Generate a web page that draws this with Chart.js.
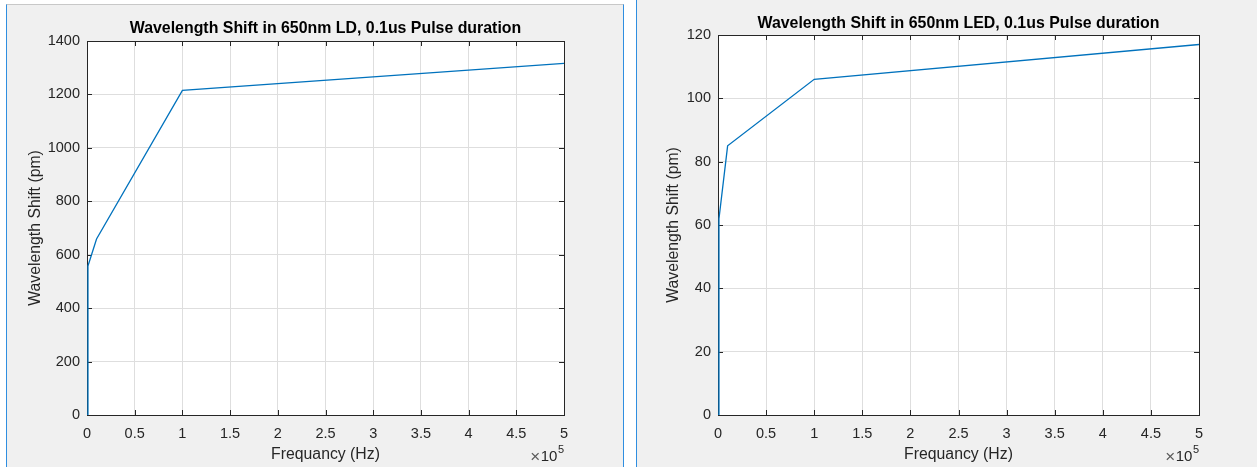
<!DOCTYPE html>
<html>
<head>
<meta charset="utf-8">
<script src="https://cdn.jsdelivr.net/npm/chart.js@4.4.1/dist/chart.umd.min.js"></script>
<style>
  html, body { margin: 0; padding: 0; background: #fff; }
  body { width: 1257px; height: 467px; position: relative; overflow: hidden; font-family: "Liberation Sans", Arial, sans-serif; }
  .panel { position: absolute; background: #f0f0f0; box-sizing: border-box; }
  #panelL { left: 6px; top: 4px; width: 618px; height: 463px; border-top: 1px solid #c8c8c8; border-left: 1px solid #2f8ee0; border-right: 1px solid #2f8ee0; }
  #panelR { left: 636px; top: 0; width: 621px; height: 467px; border-left: 1px solid #2f8ee0; }
  .box { position: absolute; top: 0; height: 467px; }
  #boxL { left: 6px; width: 618px; }
  #boxR { left: 636px; width: 621px; }
</style>
</head>
<body>
<div class="panel" id="panelL"></div>
<div class="panel" id="panelR"></div>
<div class="box" id="boxL"><canvas id="chartLD"></canvas></div>
<div class="box" id="boxR"><canvas id="chartLED"></canvas></div>
<script>
// frequency in Hz, shift in pm
const ldFreq = [1, 1000, 10000, 100000, 500000];
const ldShift = [0, 558, 659, 1215, 1316];
const ledFreq = [1, 1000, 10000, 100000, 500000];
const ledShift = [0, 62, 85, 106, 117];

// x ticks are shown in units of 1e5 Hz
const freqTicks = [0, 0.5, 1, 1.5, 2, 2.5, 3, 3.5, 4, 4.5, 5];
const ldTicks = [0, 200, 400, 600, 800, 1000, 1200, 1400];
const ledTicks = [0, 20, 40, 60, 80, 100, 120];

const FONT = '"Liberation Sans", Arial, Helvetica, sans-serif';
const AXIS_COLOR = '#262626';
const GRID_COLOR = '#dedede';
const LINE_COLOR = '#0072bd';

// white plot box, axes frame with inward ticks, title and the x10^5 multiplier
const matlabAxes = {
    id: 'matlabAxes',
    beforeDraw(chart) {
        const { ctx, chartArea: a } = chart;
        ctx.save();
        ctx.fillStyle = '#fff';
        ctx.fillRect(a.left, a.top, a.right - a.left, a.bottom - a.top);
        ctx.restore();
    },
    beforeDatasetsDraw(chart) {
        const { ctx, chartArea: a, scales } = chart;
        const tl = 5;
        ctx.save();
        ctx.strokeStyle = AXIS_COLOR;
        ctx.lineWidth = 1;
        ctx.beginPath();
        scales.x.ticks.forEach(t => {
            const px = Math.round(scales.x.getPixelForValue(t.value)) + 0.5;
            ctx.moveTo(px, a.bottom); ctx.lineTo(px, a.bottom - tl);
            ctx.moveTo(px, a.top); ctx.lineTo(px, a.top + tl);
        });
        scales.y.ticks.forEach(t => {
            const py = Math.round(scales.y.getPixelForValue(t.value)) + 0.5;
            ctx.moveTo(a.left, py); ctx.lineTo(a.left + tl, py);
            ctx.moveTo(a.right, py); ctx.lineTo(a.right - tl, py);
        });
        ctx.stroke();
        ctx.strokeRect(Math.round(a.left) + 0.5, Math.round(a.top) + 0.5,
            Math.round(a.right - a.left), Math.round(a.bottom - a.top));
        ctx.restore();
    },
    afterDraw(chart, args, opts) {
        const { ctx, chartArea: a } = chart;
        ctx.save();
        ctx.fillStyle = '#000';
        ctx.font = 'bold 15.9px ' + FONT;
        ctx.textAlign = 'center';
        ctx.textBaseline = 'alphabetic';
        ctx.fillText(opts.title, (a.left + a.right) / 2, opts.titleY);

        // exponent label under the right end of the x axis
        ctx.fillStyle = AXIS_COLOR;
        ctx.textAlign = 'left';
        ctx.font = '11px ' + FONT;
        const w5 = ctx.measureText('5').width;
        const xEnd = a.right;
        ctx.fillText('5', xEnd - w5, 453);
        ctx.font = '15px ' + FONT;
        const w10 = ctx.measureText('10').width;
        ctx.fillText('10', xEnd - w5 - w10 - 0.5, 461);
        ctx.font = '17px ' + FONT;
        ctx.fillStyle = '#5a5a5a';
        const wx = ctx.measureText('\u00d7').width;
        ctx.fillText('\u00d7', xEnd - w5 - w10 - wx - 1, 462);
        ctx.restore();
    }
};

function buildChart(id, freq, shift, yTicks, opts) {
    const points = freq.map((f, i) => ({ x: f, y: shift[i] }));
    return new Chart(document.getElementById(id), {
        type: 'scatter',
        data: {
            datasets: [{
                data: points,
                showLine: true,
                borderColor: LINE_COLOR,
                borderWidth: 1.3,
                pointRadius: 0,
                pointHoverRadius: 0,
                tension: 0
            }]
        },
        options: {
            responsive: true,
            maintainAspectRatio: false,
            animation: false,
            events: [],
            layout: { padding: { left: 0, right: opts.padRight, top: opts.padTop, bottom: 0 } },
            plugins: {
                legend: { display: false },
                tooltip: { enabled: false },
                matlabAxes: { title: opts.title, titleY: opts.titleY }
            },
            scales: {
                x: {
                    type: 'linear',
                    min: 0,
                    max: 500000,
                    afterBuildTicks: s => { s.ticks = freqTicks.map(v => ({ value: v * 1e5 })); },
                    afterFit: s => { s.height = 52; },
                    ticks: {
                        color: AXIS_COLOR,
                        font: { family: FONT, size: 14.5 },
                        padding: 10,
                        maxRotation: 0,
                        autoSkip: false,
                        callback: v => String(Math.round(v / 1e4) / 10)
                    },
                    grid: { color: GRID_COLOR, drawTicks: false },
                    border: { display: false },
                    title: {
                        display: true,
                        text: 'Frequancy (Hz)',
                        color: AXIS_COLOR,
                        font: { family: FONT, size: 15.8 },
                        padding: { top: 0, bottom: 3 }
                    }
                },
                y: {
                    type: 'linear',
                    min: yTicks[0],
                    max: yTicks[yTicks.length - 1],
                    afterBuildTicks: s => { s.ticks = yTicks.map(v => ({ value: v })); },
                    afterFit: s => { s.width = opts.yWidth; },
                    ticks: {
                        color: AXIS_COLOR,
                        font: { family: FONT, size: 14.5 },
                        padding: 7,
                        autoSkip: false,
                        callback: v => String(v)
                    },
                    grid: { color: GRID_COLOR, drawTicks: false },
                    border: { display: false },
                    title: {
                        display: true,
                        text: 'Wavelength Shift (pm)',
                        color: AXIS_COLOR,
                        font: { family: FONT, size: 15.8 },
                        padding: { top: opts.yTitlePad, bottom: 0 }
                    }
                }
            }
        },
        plugins: [matlabAxes]
    });
}

buildChart('chartLD', ldFreq, ldShift, ldTicks, {
    title: 'Wavelength Shift in 650nm LD, 0.1us Pulse duration',
    titleY: 33, padTop: 41, padRight: 60, yWidth: 81, yTitlePad: 20
});
buildChart('chartLED', ledFreq, ledShift, ledTicks, {
    title: 'Wavelength Shift in 650nm LED, 0.1us Pulse duration',
    titleY: 28, padTop: 35, padRight: 58, yWidth: 82, yTitlePad: 28
});
</script>
</body>
</html>
